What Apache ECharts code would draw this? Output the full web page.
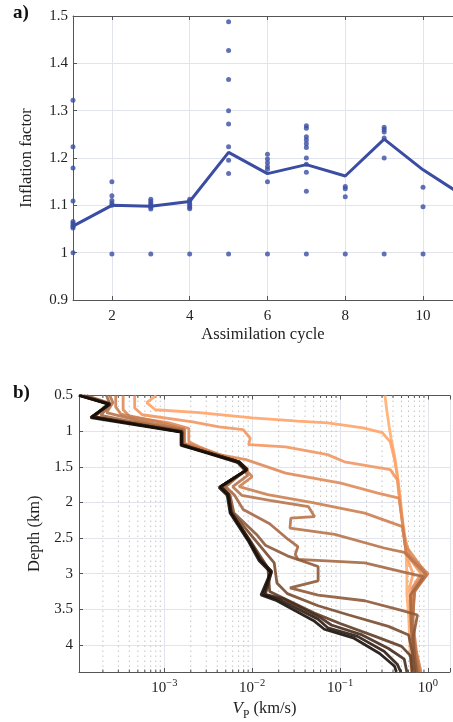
<!DOCTYPE html>
<html>
<head>
<meta charset="utf-8">
<script src="https://cdn.jsdelivr.net/npm/echarts@6/dist/echarts.min.js"></script>
<style>
  html, body { margin: 0; padding: 0; background: #fff; }
  #chart { width: 453px; height: 722px; }
</style>
</head>
<body>
<div id="chart"></div>
<script>
// ---- panel a: inflation factor per assimilation cycle ----
const cycles = [1, 2, 3, 4, 5, 6, 7, 8, 9, 10];
const samples = [
  [1.322, 1.224, 1.179, 1.109, 1.066, 1.062, 1.058, 1.055, 1.052, 1.0],
  [1.15, 1.12, 1.11, 1.105, 1.10, 0.997],
  [1.113, 1.108, 1.104, 1.10, 1.096, 1.092, 0.997],
  [1.113, 1.109, 1.104, 1.10, 1.096, 1.093, 0.997],
  [1.488, 1.427, 1.366, 1.30, 1.272, 1.224, 1.195, 1.167, 0.997],
  [1.208, 1.198, 1.19, 1.182, 1.176, 1.15, 0.997],
  [1.268, 1.263, 1.245, 1.238, 1.23, 1.222, 1.20, 1.187, 1.17, 1.13, 0.997],
  [1.14, 1.135, 1.118, 0.997],
  [1.265, 1.26, 1.255, 1.242, 1.2, 0.997],
  [1.138, 1.097, 0.997]
];
const meanCycles = [1, 2, 3, 4, 5, 6, 7, 8, 9, 10, 11];
const meanInflation = [1.056, 1.10, 1.098, 1.108, 1.212, 1.167, 1.186, 1.162, 1.24, 1.175, 1.122];
const cycleTicks = [2, 4, 6, 8, 10];

// ---- panel b: Vp profiles [vp (km/s), depth (km)], lightest first ----
const prof00 = [[0.324,0.5],[0.339,0.7],[0.363,0.95],[0.38,1.1],[0.417,1.35],[0.447,1.6],[0.468,1.85],[0.49,2.1],[0.537,2.4],[0.562,2.7],[0.575,3.0],[0.575,3.3],[0.603,3.6],[0.617,3.9],[0.631,4.15],[0.646,4.38]];
const prof01 = [[8.1e-4,0.5],[6.3e-4,0.6],[7.9e-4,0.7],[2.5e-3,0.74],[0.01,0.815],[0.033,0.86],[0.072,0.885],[0.182,0.955],[0.302,1.02],[0.372,1.15],[0.417,1.4],[0.457,1.7],[0.49,2.0],[0.525,2.4],[0.589,2.8],[0.676,3.0],[0.617,3.2],[0.631,3.6],[0.661,4.0],[0.692,4.38]];
const prof02 = [[4.6e-4,0.5],[4.6e-4,0.675],[5.6e-4,0.77],[2.1e-3,0.87],[4.2e-3,0.94],[7.9e-3,0.98],[9.5e-3,1.1],[9.1e-3,1.19],[0.024,1.22],[0.072,1.33],[0.112,1.43],[0.372,1.54],[0.447,1.68],[0.479,2.0],[0.525,2.4],[0.631,2.8],[0.832,3.0],[0.661,3.2],[0.646,3.6],[0.692,4.0],[0.759,4.38]];
const prof03 = [[3.4e-4,0.5],[3.4e-4,0.7],[4.1e-4,0.8],[1.1e-3,0.88],[1.9e-3,0.96],[1.9e-3,1.15],[2.5e-3,1.22],[4.2e-3,1.33],[8.5e-3,1.4],[0.024,1.59],[0.102,1.73],[0.269,1.87],[0.468,1.94],[0.501,2.2],[0.55,2.6],[0.933,2.98],[0.676,3.2],[0.661,3.7],[0.724,4.1],[0.794,4.38]];
const prof04 = [[2.8e-4,0.5],[2.8e-4,0.66],[3.2e-4,0.76],[7.9e-4,0.86],[1.7e-3,0.97],[1.7e-3,1.17],[2.3e-3,1.22],[6.3e-3,1.4],[7.9e-3,1.5],[0.01,1.64],[7.1e-3,1.78],[0.015,1.89],[0.047,2.0],[0.191,2.15],[0.513,2.34],[0.562,2.7],[1.0,3.0],[0.692,3.25],[0.676,3.7],[0.741,4.1],[0.832,4.38]];
const prof05 = [[2.4e-4,0.5],[2.6e-4,0.6],[2.2e-4,0.74],[5.0e-4,0.85],[1.66e-3,0.98],[1.66e-3,1.18],[2.2e-3,1.23],[6.6e-3,1.42],[7.9e-3,1.53],[8.9e-3,1.62],[6.0e-3,1.78],[7.6e-3,1.9],[0.0158,1.97],[0.0437,2.06],[0.0513,2.2],[0.0275,2.22],[0.0269,2.36],[0.0871,2.45],[0.316,2.64],[0.537,2.7],[0.955,3.02],[0.708,3.25],[0.661,3.7],[0.724,4.1],[0.794,4.38]];
const prof06 = [[2.2e-4,0.5],[2.4e-4,0.62],[1.9e-4,0.78],[4.0e-4,0.86],[1.62e-3,0.99],[1.62e-3,1.19],[2.14e-3,1.235],[7.1e-3,1.45],[8.3e-3,1.55],[5.0e-3,1.78],[6.3e-3,1.9],[7.9e-3,2.1],[0.0158,2.3],[0.0257,2.52],[0.0331,2.62],[0.0309,2.73],[0.0331,2.8],[0.191,2.85],[0.575,2.99],[0.891,3.04],[0.631,3.3],[0.646,3.8],[0.692,4.1],[0.759,4.38]];
const prof07 = [[1.3e-4,0.5],[2.4e-4,0.61],[1.6e-4,0.8],[1.6e-3,1.0],[1.6e-3,1.19],[2.1e-3,1.235],[7.2e-3,1.44],[8.9e-3,1.54],[4.6e-3,1.78],[5.6e-3,1.9],[6.2e-3,2.15],[0.0112,2.45],[0.0141,2.6],[0.0251,2.75],[0.0562,2.9],[0.0562,3.1],[0.0269,3.2],[0.0562,3.3],[0.191,3.38],[0.513,3.52],[0.759,3.58],[0.676,3.9],[0.708,4.2],[0.741,4.38]];
const prof08 = [[1.2e-4,0.5],[2.3e-4,0.615],[1.55e-4,0.8],[1.58e-3,1.005],[1.58e-3,1.19],[2.06e-3,1.235],[7.1e-3,1.435],[8.8e-3,1.54],[4.45e-3,1.78],[5.4e-3,1.89],[5.9e-3,2.14],[0.0112,2.55],[0.0178,2.85],[0.0191,3.13],[0.0251,3.28],[0.0562,3.45],[0.126,3.58],[0.355,3.74],[0.603,3.86],[0.661,4.1],[0.708,4.38]];
const prof09 = [[1.12e-4,0.5],[2.4e-4,0.62],[1.5e-4,0.8],[1.58e-3,1.01],[1.58e-3,1.19],[2.04e-3,1.235],[7.08e-3,1.43],[8.71e-3,1.54],[4.37e-3,1.78],[5.37e-3,1.89],[5.75e-3,2.14],[9.3e-3,2.52],[0.0151,2.92],[0.0158,3.25],[0.0501,3.55],[0.1,3.7],[0.251,3.88],[0.501,4.02],[0.631,4.15],[0.661,4.38]];
const prof10 = [[1.1e-4,0.5],[2.4e-4,0.62],[1.51e-4,0.8],[1.58e-3,1.01],[1.58e-3,1.19],[2.04e-3,1.235],[7.08e-3,1.43],[8.71e-3,1.54],[4.37e-3,1.78],[5.37e-3,1.89],[5.75e-3,2.14],[9.12e-3,2.52],[0.0123,2.8],[0.0166,2.97],[0.0141,3.29],[0.0224,3.35],[0.0603,3.62],[0.0794,3.72],[0.178,3.86],[0.355,4.05],[0.537,4.2],[0.575,4.38]];
const prof11 = [[1.07e-4,0.5],[2.4e-4,0.62],[1.51e-4,0.8],[1.58e-3,1.01],[1.58e-3,1.19],[2.04e-3,1.235],[7.08e-3,1.43],[8.71e-3,1.54],[4.37e-3,1.78],[5.37e-3,1.89],[5.75e-3,2.14],[9.12e-3,2.52],[0.0123,2.8],[0.0166,2.97],[0.0135,3.29],[0.02,3.36],[0.0562,3.64],[0.0724,3.76],[0.158,3.88],[0.316,4.09],[0.447,4.27],[0.49,4.38]];
const prof12 = [[1.07e-4,0.5],[2.35e-4,0.625],[1.45e-4,0.81],[1.55e-3,1.015],[1.55e-3,1.2],[2.0e-3,1.24],[6.9e-3,1.44],[8.5e-3,1.55],[4.2e-3,1.79],[5.2e-3,1.9],[5.6e-3,2.15],[8.9e-3,2.53],[0.012,2.82],[0.0162,2.98],[0.0126,3.3],[0.0191,3.38],[0.0501,3.66],[0.0661,3.78],[0.141,3.9],[0.282,4.12],[0.417,4.3],[0.437,4.38]];
const profiles = [prof00, prof01, prof02, prof03, prof04, prof05, prof06, prof07, prof08, prof09, prof10, prof11, prof12];
// copper colormap position for each profile
const copperPos = [0.88, 0.82, 0.76, 0.70, 0.64, 0.58, 0.52, 0.45, 0.38, 0.30, 0.22, 0.14, 0.07];

const decades = [1e-4, 1e-3, 1e-2, 1e-1];
const mantissas = [2, 3, 4, 5, 6, 7, 8, 9];
const depthMin = 0.5, depthMax = 4.38;
const vpMin = 1.07e-4, vpMax = 1.78;

const FONT = "'Liberation Serif', 'DejaVu Serif', serif";
const BLUE = '#3a4da2';
const AXIS = '#555';
const GRID = '#e1e4ec';

function copper(t) {
  const r = Math.min(1, 1.25 * t), g = 0.7812 * t, b = 0.4975 * t;
  return 'rgb(' + Math.round(r * 255) + ',' + Math.round(g * 255) + ',' + Math.round(b * 255) + ')';
}

let scatterData = [];
samples.forEach((vals, i) => vals.forEach(v => scatterData.push([cycles[i], v])));
const meanData = meanCycles.map((c, i) => [c, meanInflation[i]]);

let minorVp = [];
decades.forEach(d => mantissas.forEach(m => minorVp.push(m * d)));

const chart = echarts.init(document.getElementById('chart'), null, {renderer: 'canvas'});

const labelStyle = {color: '#222', fontFamily: FONT, fontSize: 15};

const option = {
  animation: false,
  backgroundColor: '#fff',
  textStyle: {fontFamily: FONT},
  graphic: [
    {type: 'text', left: 13, top: 4, style: {text: 'a)', font: 'bold 19px ' + FONT, fill: '#111'}},
    {type: 'text', left: 13, top: 384, style: {text: 'b)', font: 'bold 19px ' + FONT, fill: '#111'}}
  ],
  grid: [
    {left: 73, top: 16, width: 382, height: 284, show: false},
    {left: 79, top: 395.5, width: 376, height: 277, show: false}
  ],
  xAxis: [
    {
      gridIndex: 0, type: 'value', min: 1, max: 10.77,
      name: 'Assimilation cycle', nameLocation: 'middle', nameGap: 26,
      nameTextStyle: {color: '#222', fontFamily: FONT, fontSize: 16.5},
      axisLine: {lineStyle: {color: AXIS, width: 1}},
      axisTick: {inside: true, length: 4, customValues: cycleTicks, lineStyle: {color: AXIS}},
      axisLabel: Object.assign({margin: 9, customValues: cycleTicks}, labelStyle),
      splitLine: {show: true, lineStyle: {color: GRID, width: 1}}
    },
    {
      gridIndex: 0, type: 'value', min: 1, max: 10.77, position: 'top',
      axisLine: {lineStyle: {color: AXIS, width: 1}},
      axisTick: {inside: true, length: 4, customValues: cycleTicks, lineStyle: {color: AXIS}},
      axisLabel: {show: false}, splitLine: {show: false}
    },
    {
      gridIndex: 1, type: 'log', logBase: 10, min: vpMin, max: vpMax,
      name: '{i|V}{sub|P}{n| (km/s)}', nameLocation: 'middle', nameGap: 28,
      nameTextStyle: {
        rich: {
          i: {fontFamily: FONT, fontStyle: 'italic', fontSize: 17, color: '#222', padding: [0, 0, 4, 0], verticalAlign: 'bottom'},
          sub: {fontFamily: FONT, fontSize: 11.5, color: '#222', verticalAlign: 'bottom'},
          n: {fontFamily: FONT, fontSize: 16.5, color: '#222', padding: [0, 0, 4, 0], verticalAlign: 'bottom'}
        }
      },
      axisLine: {lineStyle: {color: AXIS, width: 1}},
      axisTick: {inside: true, length: 4, lineStyle: {color: AXIS}},
      axisLabel: {
        margin: 6,
        formatter: v => {
          const l = Math.log10(v), e = Math.round(l);
          if (Math.abs(l - e) > 1e-6 || e < -3) return '';
          return '{b|10}{s|' + (e < 0 ? '\u2212' + (-e) : e) + '}';
        },
        rich: {
          b: {fontFamily: FONT, fontSize: 15, color: '#222', verticalAlign: 'bottom'},
          s: {fontFamily: FONT, fontSize: 10.5, color: '#222', padding: [0, 0, 7, 0], verticalAlign: 'bottom'}
        }
      },
      splitLine: {show: true, lineStyle: {color: GRID, width: 1}}
    },
    {
      gridIndex: 1, type: 'log', logBase: 10, min: vpMin, max: vpMax, position: 'top',
      axisLine: {lineStyle: {color: AXIS, width: 1}},
      axisTick: {inside: true, length: 4, lineStyle: {color: AXIS}},
      axisLabel: {show: false}, splitLine: {show: false}
    }
  ],
  yAxis: [
    {
      gridIndex: 0, type: 'value', min: 0.9, max: 1.5, interval: 0.1,
      name: 'Inflation factor', nameLocation: 'middle', nameGap: 38,
      nameTextStyle: {color: '#222', fontFamily: FONT, fontSize: 16.5},
      axisLine: {lineStyle: {color: AXIS, width: 1}},
      axisTick: {inside: true, length: 4, lineStyle: {color: AXIS}},
      axisLabel: Object.assign({margin: 5, formatter: v => String(Math.round(v * 10) / 10)}, labelStyle),
      splitLine: {show: true, lineStyle: {color: GRID, width: 1}}
    },
    {
      gridIndex: 1, type: 'value', inverse: true, min: depthMin, max: depthMax, interval: 0.5,
      name: 'Depth (km)', nameLocation: 'middle', nameGap: 36,
      nameTextStyle: {color: '#222', fontFamily: FONT, fontSize: 16.5},
      axisLine: {lineStyle: {color: AXIS, width: 1}},
      axisTick: {inside: true, length: 4, lineStyle: {color: AXIS}},
      axisLabel: Object.assign({
        margin: 6,
        formatter: v => (Math.abs(v * 2 - Math.round(v * 2)) < 1e-6 ? String(v) : '')
      }, labelStyle),
      splitLine: {show: true, lineStyle: {color: GRID, width: 1}}
    }
  ],
  series: []
};

option.series.push({
  type: 'scatter', xAxisIndex: 0, yAxisIndex: 0, data: scatterData,
  symbolSize: 5, itemStyle: {color: BLUE}, z: 3
});
option.series.push({
  type: 'line', xAxisIndex: 0, yAxisIndex: 0, data: meanData,
  showSymbol: false, lineStyle: {color: BLUE, width: 3}, clip: true, z: 4
});

// minor log grid lines (dotted) with small inner ticks top and bottom
option.series.push({
  type: 'custom', xAxisIndex: 2, yAxisIndex: 1, z: 1, silent: true,
  data: minorVp.map(v => [v, depthMin]),
  renderItem: (params, api) => {
    const v = api.value(0);
    const top = api.coord([v, depthMin]);
    const bot = api.coord([v, depthMax]);
    return {
      type: 'group',
      children: [
        {type: 'line', shape: {x1: top[0], y1: top[1], x2: bot[0], y2: bot[1]},
          style: {stroke: '#c4c4c4', lineWidth: 1, lineDash: [1.5, 3.5]}},
        {type: 'line', shape: {x1: top[0], y1: top[1], x2: top[0], y2: top[1] + 2.5},
          style: {stroke: AXIS, lineWidth: 1}},
        {type: 'line', shape: {x1: bot[0], y1: bot[1], x2: bot[0], y2: bot[1] - 2.5},
          style: {stroke: AXIS, lineWidth: 1}}
      ]
    };
  }
});

profiles.forEach((p, i) => {
  option.series.push({
    type: 'line', xAxisIndex: 2, yAxisIndex: 1, data: p,
    showSymbol: false, clip: true, z: 2,
    lineStyle: {color: copper(copperPos[i]), width: 2.8, opacity: 0.9}
  });
});

chart.setOption(option);
</script>
</body>
</html>
